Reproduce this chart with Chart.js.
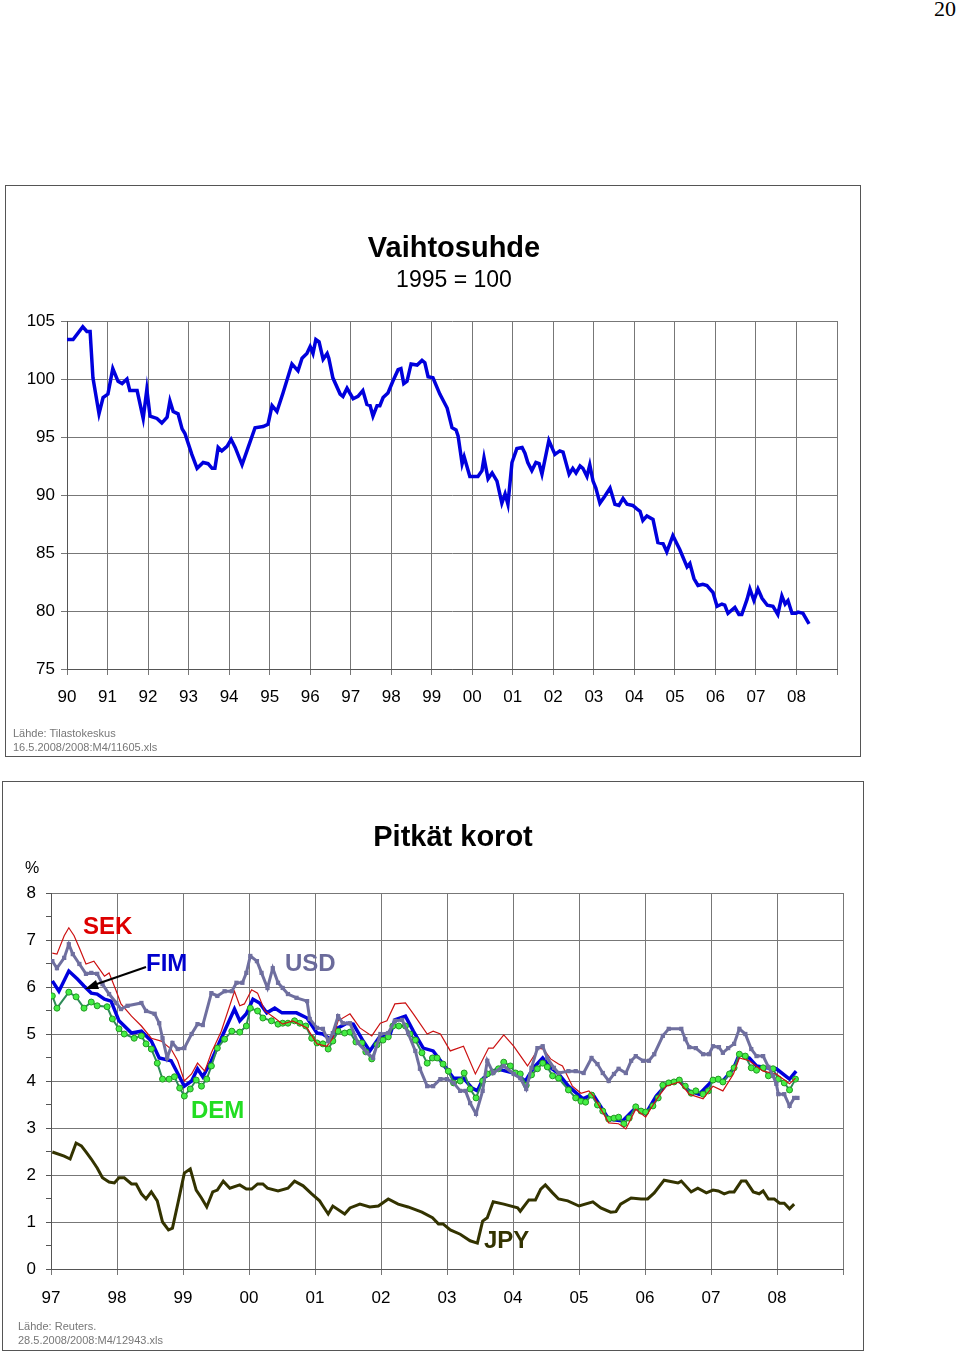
<!DOCTYPE html>
<html lang="fi">
<head>
<meta charset="UTF-8">
<title>Vaihtosuhde ja pitkät korot</title>
<style>
    body { margin: 0; width: 960px; height: 1351px; position: relative; background: #fff; font-family: Arial, 'Liberation Sans', sans-serif; overflow: hidden; }
    .box { position: absolute; border: 1px solid #555; box-sizing: border-box; }
    .box canvas { position: absolute; left: 0; top: 0; }
    .txt { position: absolute; white-space: nowrap; }
    .src { position: absolute; font-size: 11px; color: #777; line-height: 14px; }
    .lbl { position: absolute; font-weight: bold; font-size: 24px; }
</style>
<script src="https://cdn.jsdelivr.net/npm/chart.js"></script>
</head>
<body>
<div class="txt" style="right:4px;top:-4px;font:22px 'Liberation Serif','DejaVu Serif',serif;">20</div>

<div class="box" id="box1" style="left:5px;top:185px;width:856px;height:572px;">
    <canvas id="c1" width="854" height="570"></canvas>
    <div class="txt" style="left:0;width:896px;text-align:center;top:45px;font-weight:bold;font-size:29px;">Vaihtosuhde</div>
    <div class="txt" style="left:0;width:896px;text-align:center;top:80px;font-size:23px;">1995 = 100</div>
    <div class="src" style="left:7px;top:540px;">Lähde: Tilastokeskus<br>16.5.2008/2008:M4/11605.xls</div>
</div>

<div class="box" id="box2" style="left:2px;top:781px;width:862px;height:570px;">
    <canvas id="c2" width="860" height="568"></canvas>
    <div class="txt" style="left:0;width:900px;text-align:center;top:38px;font-weight:bold;font-size:29px;">Pitkät korot</div>
    <div class="txt" style="left:22px;top:77px;font-size:16px;">%</div>
    <div class="lbl" style="left:80px;top:130px;color:#dd0000;">SEK</div>
    <div class="lbl" style="left:143px;top:167px;color:#0000cc;">FIM</div>
    <div class="lbl" style="left:282px;top:167px;color:#6b6b9b;">USD</div>
    <div class="lbl" style="left:188px;top:314px;color:#22dd22;">DEM</div>
    <div class="lbl" style="left:481px;top:444px;color:#333300;">JPY</div>
    <svg style="position:absolute;left:0;top:0;" width="860" height="568">
        <line x1="143" y1="185" x2="91" y2="203" stroke="#000" stroke-width="2"/>
        <polygon points="82,207 93,198 96,207" fill="#000"/>
    </svg>
    <div class="src" style="left:15px;top:537px;">Lähde: Reuters.<br>28.5.2008/2008:M4/12943.xls</div>
</div>

<script>
    // Vaihtosuhde, 1995 = 100
    const totYears = [1990.00,1990.15,1990.39,1990.49,1990.57,1990.64,1990.79,1990.89,1991.01,1991.13,1991.26,1991.36,1991.48,1991.55,1991.73,1991.88,1991.97,1992.05,1992.22,1992.34,1992.47,1992.54,1992.62,1992.74,1992.84,1992.91,1993.08,1993.21,1993.36,1993.48,1993.58,1993.65,1993.73,1993.82,1993.95,1994.05,1994.15,1994.32,1994.47,1994.64,1994.84,1994.96,1995.06,1995.18,1995.33,1995.55,1995.70,1995.80,1995.92,1996.00,1996.07,1996.14,1996.22,1996.32,1996.42,1996.46,1996.56,1996.74,1996.81,1996.91,1997.06,1997.18,1997.30,1997.40,1997.48,1997.55,1997.65,1997.72,1997.80,1997.92,1998.04,1998.17,1998.24,1998.31,1998.39,1998.49,1998.64,1998.76,1998.83,1998.91,1999.03,1999.20,1999.38,1999.50,1999.60,1999.65,1999.75,1999.80,1999.94,2000.14,2000.24,2000.29,2000.39,2000.49,2000.61,2000.73,2000.81,2000.88,2000.98,2001.10,2001.23,2001.30,2001.37,2001.47,2001.57,2001.65,2001.72,2001.89,2002.04,2002.16,2002.24,2002.39,2002.48,2002.56,2002.66,2002.73,2002.83,2002.90,2002.98,2003.05,2003.15,2003.27,2003.40,2003.52,2003.62,2003.72,2003.82,2003.96,2004.06,2004.14,2004.21,2004.31,2004.46,2004.58,2004.71,2004.80,2004.95,2005.12,2005.30,2005.37,2005.47,2005.57,2005.69,2005.79,2005.86,2005.94,2006.04,2006.16,2006.23,2006.31,2006.48,2006.58,2006.65,2006.78,2006.85,2006.95,2007.05,2007.15,2007.28,2007.42,2007.54,2007.64,2007.72,2007.79,2007.89,2007.99,2008.04,2008.16,2008.31];
    const totValues = [103.4,103.4,104.5,104.1,104.1,100.1,97.0,98.4,98.7,100.9,99.8,99.6,100.0,99.0,99.0,96.6,99.1,96.8,96.6,96.2,96.7,98.1,97.2,97.0,95.7,95.3,93.5,92.3,92.8,92.7,92.3,92.3,94.1,93.8,94.2,94.8,94.1,92.6,94.1,95.8,95.9,96.1,97.7,97.2,98.8,101.3,100.7,101.8,102.2,102.8,102.2,103.4,103.2,101.7,102.2,101.8,100.1,98.7,98.5,99.2,98.3,98.5,99.0,97.8,97.7,96.8,97.7,97.7,98.4,98.8,99.8,100.8,100.9,99.6,99.8,101.3,101.2,101.6,101.4,100.2,100.1,98.7,97.5,95.8,95.6,95.1,92.7,93.3,91.6,91.6,92.1,93.2,91.4,91.9,91.2,89.3,90.1,89.2,92.8,94.0,94.1,93.6,92.8,92.1,92.8,92.7,91.8,94.7,93.5,93.8,93.7,91.8,92.3,91.9,92.5,92.3,91.6,92.6,91.2,90.6,89.3,89.9,90.6,89.2,89.1,89.7,89.2,89.1,88.8,88.6,87.8,88.2,87.9,85.9,85.8,85.1,86.5,85.3,83.8,84.1,82.8,82.2,82.3,82.2,81.9,81.6,80.4,80.6,80.5,79.8,80.3,79.7,79.7,81.0,81.9,80.9,81.9,81.1,80.5,80.4,79.7,81.3,80.6,80.9,79.8,79.8,79.9,79.8,78.9];
    const totTicks = [75, 80, 85, 90, 95, 100, 105];

    // Pitkät korot, %
    const fimYears = [1997.02,1997.12,1997.27,1997.40,1997.50,1997.61,1997.70,1997.81,1997.91,1998.03,1998.22,1998.37,1998.52,1998.64,1998.82,1999.02,1999.13,1999.22,1999.30,1999.43,1999.58,1999.78,1999.86,1999.96,2000.06,2000.16,2000.27,2000.39,2000.50,2000.57,2000.72,2000.88,2001.03,2001.12,2001.23,2001.35,2001.48,2001.58,2001.73,2001.83,2001.99,2002.14,2002.21,2002.37,2002.49,2002.64,2002.79,2002.94,2003.10,2003.25,2003.38,2003.46,2003.55,2003.76,2004.01,2004.19,2004.31,2004.45,2004.57,2004.68,2004.84,2005.06,2005.21,2005.45,2005.66,2005.86,2006.01,2006.17,2006.36,2006.52,2006.67,2006.82,2007.03,2007.18,2007.34,2007.43,2007.58,2007.69,2007.84,2007.99,2008.19,2008.29];
    const fimValues = [6.13,5.91,6.34,6.17,6.02,5.87,5.85,5.74,5.70,5.28,5.02,5.06,4.85,4.49,4.43,3.89,4.00,4.26,4.09,4.43,4.91,5.53,5.28,5.43,5.74,5.66,5.45,5.55,5.45,5.45,5.45,5.34,5.02,5.00,4.89,5.13,5.23,5.21,4.85,4.64,4.96,5.00,5.30,5.38,5.06,4.70,4.64,4.36,4.06,4.06,3.85,3.79,4.06,4.26,4.17,4.00,4.28,4.49,4.28,4.17,3.89,3.62,3.72,3.19,3.15,3.43,3.30,3.68,3.98,4.00,3.79,3.72,4.02,4.00,4.26,4.57,4.49,4.32,4.28,4.26,4.04,4.21];

    const demYears = [1997.02,1997.09,1997.27,1997.38,1997.50,1997.61,1997.70,1997.85,1997.93,1998.03,1998.11,1998.26,1998.37,1998.44,1998.52,1998.61,1998.69,1998.79,1998.87,1998.95,1999.02,1999.11,1999.20,1999.28,1999.36,1999.43,1999.52,1999.63,1999.74,1999.86,1999.96,2000.02,2000.13,2000.21,2000.34,2000.44,2000.51,2000.59,2000.69,2000.77,2000.86,2000.95,2001.03,2001.12,2001.20,2001.27,2001.35,2001.45,2001.53,2001.62,2001.71,2001.77,2001.86,2001.94,2002.03,2002.11,2002.18,2002.27,2002.37,2002.44,2002.52,2002.62,2002.70,2002.78,2002.85,2002.94,2003.02,2003.10,2003.20,2003.26,2003.35,2003.44,2003.54,2003.61,2003.69,2003.78,2003.86,2003.96,2004.04,2004.11,2004.20,2004.28,2004.37,2004.45,2004.52,2004.60,2004.69,2004.84,2004.95,2005.03,2005.10,2005.19,2005.28,2005.36,2005.45,2005.53,2005.60,2005.68,2005.76,2005.86,2005.94,2006.01,2006.12,2006.20,2006.27,2006.36,2006.44,2006.52,2006.61,2006.70,2006.77,2006.88,2006.96,2007.03,2007.11,2007.18,2007.28,2007.35,2007.43,2007.52,2007.61,2007.69,2007.79,2007.87,2007.94,2008.02,2008.11,2008.19,2008.28];
    const demValues = [5.81,5.55,5.89,5.79,5.55,5.68,5.60,5.58,5.32,5.11,5.00,4.91,4.96,4.79,4.68,4.38,4.04,4.04,4.09,3.85,3.68,3.83,4.02,3.89,4.04,4.32,4.70,4.89,5.06,5.04,5.17,5.55,5.49,5.34,5.28,5.21,5.23,5.23,5.28,5.23,5.17,4.91,4.81,4.79,4.68,4.85,5.06,5.02,5.04,4.83,4.81,4.62,4.47,4.77,4.87,4.94,5.17,5.17,5.17,5.00,4.87,4.60,4.38,4.49,4.49,4.36,4.21,3.96,4.00,4.17,3.83,3.64,4.00,4.15,4.19,4.26,4.40,4.32,4.17,4.15,3.91,4.13,4.26,4.38,4.30,4.11,4.06,3.81,3.64,3.57,3.55,3.70,3.49,3.36,3.19,3.21,3.23,3.09,3.21,3.45,3.36,3.34,3.47,3.64,3.91,3.96,3.98,4.02,3.89,3.74,3.79,3.72,3.79,4.02,4.04,3.98,4.15,4.28,4.57,4.53,4.28,4.23,4.28,4.11,4.26,4.04,3.96,3.81,4.04];

    const sekYears = [1997.02,1997.09,1997.20,1997.27,1997.35,1997.43,1997.53,1997.65,1997.81,1997.88,1997.99,1998.06,1998.22,1998.37,1998.52,1998.67,1998.82,1998.92,1999.02,1999.13,1999.22,1999.33,1999.43,1999.58,1999.78,1999.86,1999.93,2000.04,2000.13,2000.24,2000.39,2000.51,2000.66,2000.88,2001.03,2001.18,2001.27,2001.35,2001.53,2001.68,2001.86,2001.99,2002.09,2002.21,2002.37,2002.49,2002.70,2002.79,2002.90,2003.05,2003.25,2003.43,2003.63,2003.70,2003.86,2004.01,2004.22,2004.39,2004.46,2004.57,2004.69,2004.75,2004.90,2005.03,2005.15,2005.22,2005.45,2005.60,2005.71,2005.86,2006.01,2006.17,2006.32,2006.52,2006.67,2006.88,2007.03,2007.18,2007.34,2007.43,2007.58,2007.79,2007.99,2008.19,2008.28];
    const sekValues = [6.72,6.70,7.09,7.26,7.09,6.83,6.49,6.55,6.23,6.30,5.91,5.64,5.38,5.17,4.91,4.85,4.68,4.43,4.00,4.15,4.38,4.21,4.60,5.06,5.91,5.60,5.64,5.94,5.87,5.49,5.34,5.21,5.28,5.13,4.79,4.74,4.91,5.28,5.43,5.13,4.96,5.23,5.28,5.64,5.66,5.43,5.00,5.06,5.00,4.64,4.74,4.15,4.70,4.70,4.98,4.74,4.32,4.70,4.68,4.47,4.36,4.32,3.89,3.74,3.79,3.68,3.11,3.09,2.98,3.40,3.23,3.60,3.89,3.98,3.72,3.62,3.89,3.79,4.15,4.49,4.43,4.21,4.15,3.94,4.06];

    const usdYears = [1997.02,1997.09,1997.20,1997.27,1997.33,1997.43,1997.53,1997.61,1997.70,1997.78,1997.88,1997.99,1998.06,1998.16,1998.37,1998.44,1998.57,1998.64,1998.69,1998.76,1998.84,1998.92,1999.02,1999.13,1999.22,1999.30,1999.43,1999.52,1999.63,1999.74,1999.81,1999.90,1999.96,2000.02,2000.12,2000.19,2000.28,2000.36,2000.44,2000.51,2000.59,2000.72,2000.88,2000.92,2001.03,2001.12,2001.20,2001.27,2001.35,2001.42,2001.53,2001.65,2001.79,2001.88,2001.99,2002.11,2002.21,2002.32,2002.41,2002.52,2002.59,2002.70,2002.79,2002.90,2003.00,2003.10,2003.20,2003.28,2003.35,2003.44,2003.54,2003.61,2003.70,2003.86,2004.01,2004.11,2004.20,2004.28,2004.37,2004.45,2004.52,2004.62,2004.69,2004.84,2004.95,2005.07,2005.19,2005.28,2005.36,2005.45,2005.53,2005.60,2005.71,2005.79,2005.86,2005.97,2006.06,2006.14,2006.27,2006.36,2006.55,2006.61,2006.67,2006.77,2006.88,2006.97,2007.03,2007.12,2007.18,2007.26,2007.35,2007.43,2007.52,2007.61,2007.69,2007.79,2007.87,2007.94,2007.99,2008.02,2008.11,2008.19,2008.26,2008.31];
    const usdValues = [6.55,6.40,6.62,6.91,6.70,6.49,6.28,6.30,6.28,6.06,5.85,5.66,5.53,5.60,5.66,5.49,5.43,5.23,4.91,4.49,4.81,4.68,4.70,5.00,5.21,5.19,5.87,5.81,5.91,5.91,6.09,6.09,6.30,6.66,6.55,6.30,5.98,6.40,6.09,5.98,5.85,5.77,5.70,5.32,5.13,5.11,4.85,5.02,5.38,5.23,5.23,4.81,4.60,4.49,5.00,5.02,5.28,5.30,5.02,4.64,4.26,3.89,3.89,4.04,4.04,3.96,3.79,3.79,3.53,3.30,3.79,4.43,4.17,4.32,4.15,4.06,3.83,4.28,4.70,4.74,4.49,4.28,4.17,4.21,4.21,4.17,4.49,4.36,4.17,4.00,4.15,4.26,4.17,4.43,4.53,4.43,4.43,4.57,4.96,5.11,5.11,4.89,4.72,4.70,4.57,4.57,4.74,4.72,4.60,4.70,4.79,5.11,5.00,4.68,4.53,4.53,4.30,4.11,3.94,3.72,3.72,3.47,3.64,3.64];

    const jpyYears = [1997.02,1997.20,1997.29,1997.38,1997.46,1997.53,1997.61,1997.70,1997.78,1997.88,1997.96,1998.03,1998.11,1998.22,1998.29,1998.37,1998.44,1998.52,1998.61,1998.69,1998.78,1998.84,1998.92,1999.02,1999.11,1999.20,1999.28,1999.36,1999.45,1999.52,1999.61,1999.71,1999.86,1999.96,2000.04,2000.13,2000.21,2000.28,2000.44,2000.59,2000.69,2000.82,2000.95,2001.07,2001.12,2001.20,2001.27,2001.45,2001.53,2001.68,2001.83,2001.96,2002.11,2002.26,2002.41,2002.62,2002.78,2002.87,2002.94,2003.05,2003.20,2003.35,2003.46,2003.54,2003.61,2003.70,2003.86,2004.07,2004.11,2004.24,2004.34,2004.42,2004.49,2004.60,2004.69,2004.83,2005.00,2005.21,2005.33,2005.48,2005.56,2005.63,2005.79,2005.94,2006.04,2006.14,2006.29,2006.50,2006.55,2006.70,2006.80,2006.93,2007.03,2007.11,2007.20,2007.28,2007.35,2007.46,2007.53,2007.64,2007.73,2007.79,2007.87,2007.96,2008.04,2008.11,2008.19,2008.26];
    const jpyValues = [2.49,2.40,2.34,2.68,2.62,2.49,2.34,2.15,1.94,1.85,1.83,1.94,1.94,1.81,1.81,1.60,1.49,1.64,1.45,1.00,0.83,0.87,1.38,2.04,2.13,1.68,1.51,1.32,1.64,1.68,1.87,1.72,1.79,1.70,1.70,1.81,1.81,1.72,1.66,1.72,1.87,1.77,1.60,1.45,1.34,1.17,1.34,1.17,1.30,1.38,1.32,1.34,1.49,1.38,1.32,1.21,1.09,0.96,0.96,0.83,0.74,0.60,0.55,1.02,1.09,1.43,1.38,1.30,1.23,1.47,1.47,1.70,1.79,1.62,1.49,1.45,1.34,1.43,1.30,1.21,1.22,1.38,1.51,1.49,1.49,1.62,1.89,1.83,1.87,1.64,1.72,1.62,1.68,1.66,1.60,1.64,1.64,1.87,1.87,1.64,1.60,1.66,1.49,1.49,1.40,1.40,1.28,1.38];

    const pts = (xs, ys) => xs.map((x, i) => ({ x: x, y: ys[i] }));
    const font = { family: 'Arial, "Liberation Sans", sans-serif', size: 17 };
    const twoDigit = v => v >= 2009 ? '' : String(v % 100).padStart(2, '0');

    new Chart(document.getElementById('c1'), {
        type: 'line',
        data: {
            datasets: [{
                data: pts(totYears, totValues),
                borderColor: '#0000dd',
                borderWidth: 3.5,
                pointRadius: 0,
                tension: 0
            }]
        },
        options: {
            responsive: false,
            animation: false,
            plugins: { legend: { display: false }, tooltip: { enabled: false } },
            layout: { padding: { left: 0, top: 135, right: 23, bottom: 0 } },
            scales: {
                x: {
                    type: 'linear', min: 1990, max: 2009,
                    afterBuildTicks: s => { s.ticks = []; for (let y = 1990; y <= 2009; y++) s.ticks.push({ value: y }); },
                    afterFit: s => { s.height = 87; },
                    grid: { color: '#777', tickLength: 6 },
                    border: { color: '#555' },
                    ticks: { color: '#000', font: font, maxRotation: 0, autoSkip: false, padding: 12, callback: twoDigit }
                },
                y: {
                    min: 75, max: 105,
                    afterBuildTicks: s => { s.ticks = totTicks.map(v => ({ value: v })); },
                    afterFit: s => { s.width = 61; },
                    grid: { color: '#777', tickLength: 6 },
                    border: { color: '#555' },
                    ticks: { color: '#000', font: font, padding: 6 }
                }
            }
        }
    });

    new Chart(document.getElementById('c2'), {
        type: 'line',
        data: {
            datasets: [
                { data: pts(jpyYears, jpyValues), borderColor: '#333300', borderWidth: 3, pointRadius: 0 },
                { data: pts(usdYears, usdValues), borderColor: '#6f6f9f', borderWidth: 3, pointStyle: 'rect', pointRadius: 3, pointBackgroundColor: '#6f6f9f', pointBorderWidth: 0 },
                { data: pts(sekYears, sekValues), borderColor: '#cc1111', borderWidth: 1.2, pointRadius: 0 },
                { data: pts(demYears, demValues), borderColor: '#2e8b57', borderWidth: 2, pointRadius: 3, pointBackgroundColor: '#44ee44', pointBorderColor: '#229922', pointBorderWidth: 1 },
                { data: pts(fimYears, fimValues), borderColor: '#0000dd', borderWidth: 3.5, pointRadius: 0 }
            ]
        },
        options: {
            responsive: false,
            animation: false,
            plugins: { legend: { display: false }, tooltip: { enabled: false } },
            layout: { padding: { left: 0, top: 111, right: 20, bottom: 0 } },
            scales: {
                x: {
                    type: 'linear', min: 1997, max: 2009,
                    afterBuildTicks: s => { s.ticks = []; for (let y = 1997; y <= 2009; y++) s.ticks.push({ value: y }); },
                    afterFit: s => { s.height = 81; },
                    grid: { color: '#777', tickLength: 6 },
                    border: { color: '#555' },
                    ticks: { color: '#000', font: font, maxRotation: 0, autoSkip: false, padding: 13, callback: twoDigit }
                },
                y: {
                    min: 0, max: 8,
                    afterBuildTicks: s => { s.ticks = []; for (let v = 0; v <= 8; v += 0.5) s.ticks.push({ value: v }); },
                    afterFit: s => { s.width = 48; },
                    grid: {
                        color: c => (c.tick && c.tick.value % 1 === 0) ? '#777' : 'rgba(0,0,0,0)',
                        tickColor: '#555', tickLength: 5
                    },
                    border: { color: '#555' },
                    ticks: { color: '#000', font: font, padding: 10, callback: v => v % 1 === 0 ? String(v) : '' }
                }
            }
        }
    });
</script>
</body>
</html>
